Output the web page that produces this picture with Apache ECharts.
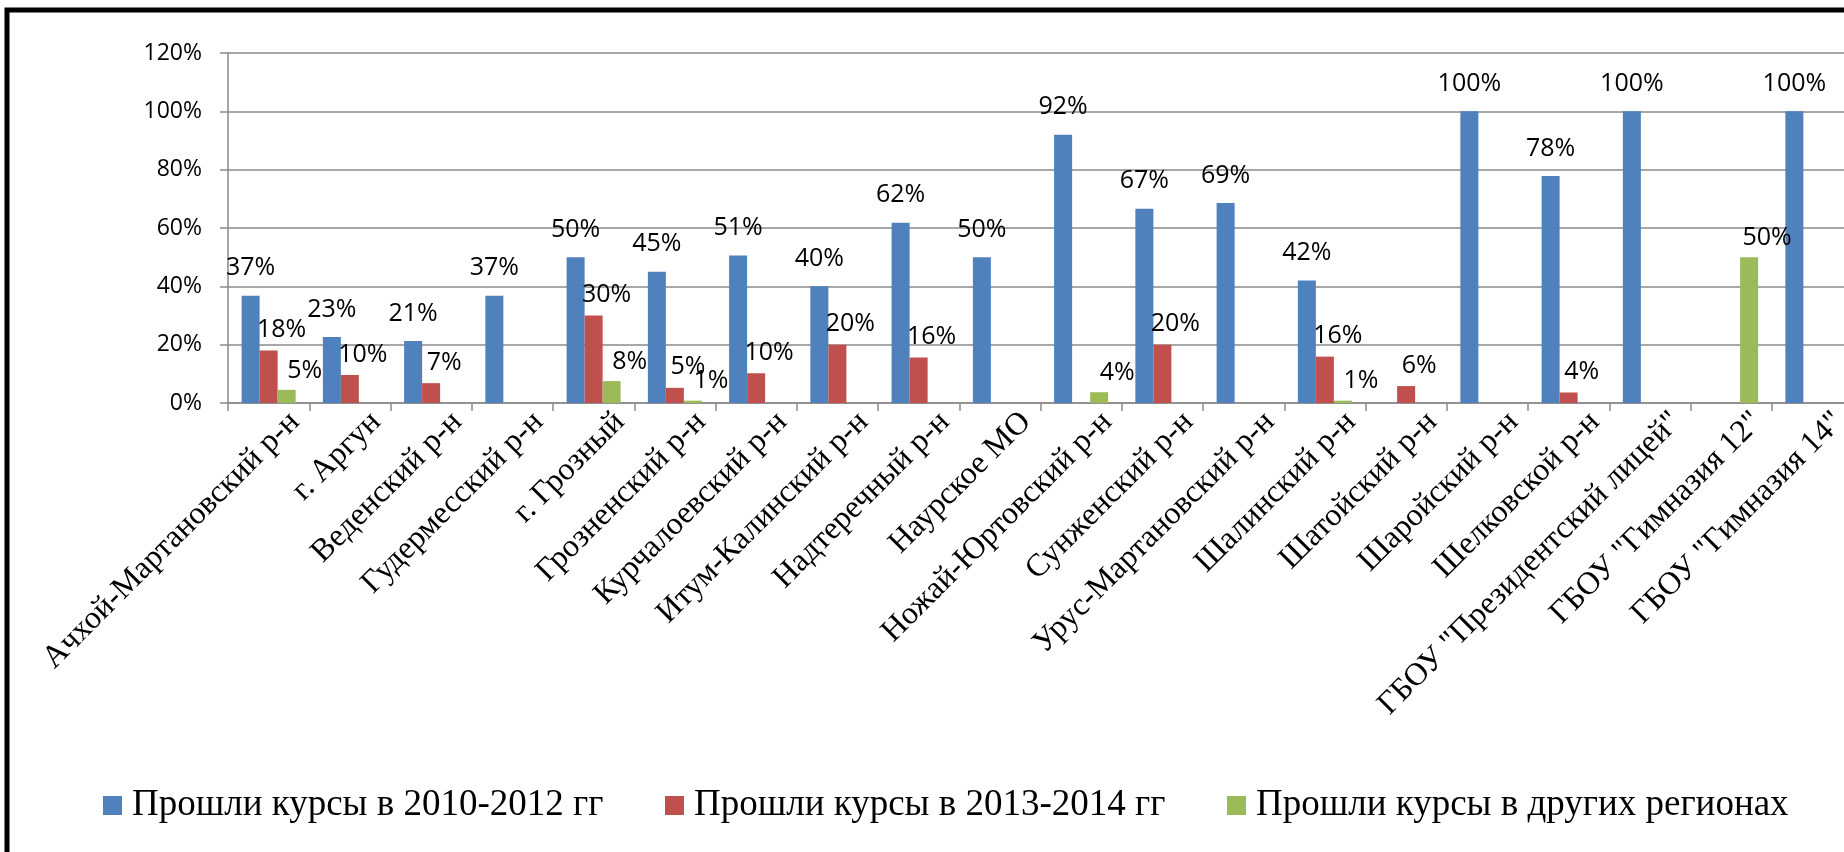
<!DOCTYPE html>
<html>
<head>
<meta charset="utf-8">
<script src="https://cdn.jsdelivr.net/npm/echarts@6/dist/echarts.min.js"></script>
<style>
html,body{margin:0;padding:0;background:#fff;}
#chart{width:1844px;height:852px;}
</style>
</head>
<body>
<div id="chart"></div>
<script>
const categories = ['Ачхой-Мартановский р-н','г. Аргун','Веденский р-н','Гудермесский р-н','г. Грозный','Грозненский р-н','Курчалоевский р-н','Итум-Калинский р-н','Надтеречный р-н','Наурское МО','Ножай-Юртовский р-н','Сунженский р-н','Урус-Мартановский р-н','Шалинский р-н','Шатойский р-н','Шаройский р-н','Шелковской р-н','ГБОУ "Президентский лицей"','ГБОУ "Гимназия 12"','ГБОУ "Гимназия 14"'];
const seriesNames = ['Прошли курсы в 2010-2012 гг','Прошли курсы в 2013-2014 гг','Прошли курсы в других регионах'];
const courses2010_2012 = [36.8, 22.6, 21.3, 36.8, 50, 45, 50.6, 40, 61.8, 50, 92, 66.6, 68.6, 42, null, 100, 77.8, 100, null, 100];
const courses2013_2014 = [18, 9.6, 6.8, null, 30, 5.2, 10.2, 20, 15.6, null, null, 20, null, 15.9, 5.8, null, 3.6, null, null, null];
const coursesOtherRegions = [4.5, null, null, null, 7.5, 0.8, null, null, null, null, 3.7, null, null, 0.8, null, null, null, null, 50, null];
const yTicks = {min: 0, max: 120, interval: 20};

const colors = ['#4F81BD', '#C0504D', '#9BBB59'];
const gray = '#8a8a8a';
const sans = '"Open Sans", "Noto Sans", sans-serif';
const serif = '"Liberation Serif", "DejaVu Serif", serif';

const chart = echarts.init(document.getElementById('chart'), null, {renderer: 'canvas'});

function pct(p) { return Math.round(p.value) + '%'; }

const labelCfg = [
  {show: true, position: 'top', distance: 15, offset: [0, 0]},
  {show: true, position: 'top', distance: 8, offset: [13, 0]},
  {show: true, position: 'top', distance: 7, offset: [18, 0]}
];
const seriesData = [courses2010_2012, courses2013_2014, coursesOtherRegions];

const series = seriesNames.map((name, i) => ({
  name: name,
  type: 'bar',
  data: seriesData[i],
  barGap: '0%',
  barCategoryGap: '33.5%',
  itemStyle: {color: colors[i]},
  label: Object.assign({}, labelCfg[i], {
    formatter: pct,
    fontFamily: sans,
    fontSize: 25,
    color: '#000'
  })
}));

const legendLefts = [98, 660, 1222];
const legends = seriesNames.map((n, i) => ({
  data: [n],
  left: legendLefts[i],
  top: 782,
  icon: 'rect',
  itemWidth: 19,
  itemHeight: 19,
  textStyle: {fontFamily: serif, fontSize: 37, color: '#000', padding: [0, 0, 0, 5]}
}));

chart.setOption({
  backgroundColor: '#fff',
  animation: false,
  color: colors,
  grid: {left: 228, top: 53, width: 1625, height: 350, containLabel: false, outerBoundsMode: 'none'},
  legend: legends,
  xAxis: {
    type: 'category',
    data: categories,
    axisLine: {lineStyle: {color: gray, width: 1.5}},
    axisTick: {show: true, length: 8, lineStyle: {color: gray, width: 1.5}},
    axisLabel: {
      interval: 0,
      rotate: 45,
      margin: -12,
      verticalAlign: 'top',
      lineHeight: 74,
      fontFamily: serif,
      fontSize: 32,
      color: '#000'
    }
  },
  yAxis: {
    type: 'value',
    min: yTicks.min,
    max: yTicks.max,
    interval: yTicks.interval,
    axisLine: {show: true, lineStyle: {color: gray, width: 1.5}},
    axisTick: {show: true, length: 8, lineStyle: {color: gray, width: 1.5}},
    splitLine: {lineStyle: {color: gray, width: 1.5}},
    axisLabel: {
      formatter: '{value}%',
      margin: 26,
      fontFamily: sans,
      fontSize: 23,
      color: '#000'
    }
  },
  series: series,
  graphic: [{
    type: 'rect',
    silent: true,
    shape: {x: 7, y: 10, width: 1900, height: 900},
    style: {fill: 'none', stroke: '#000', lineWidth: 5}
  }]
});
</script>
</body>
</html>
